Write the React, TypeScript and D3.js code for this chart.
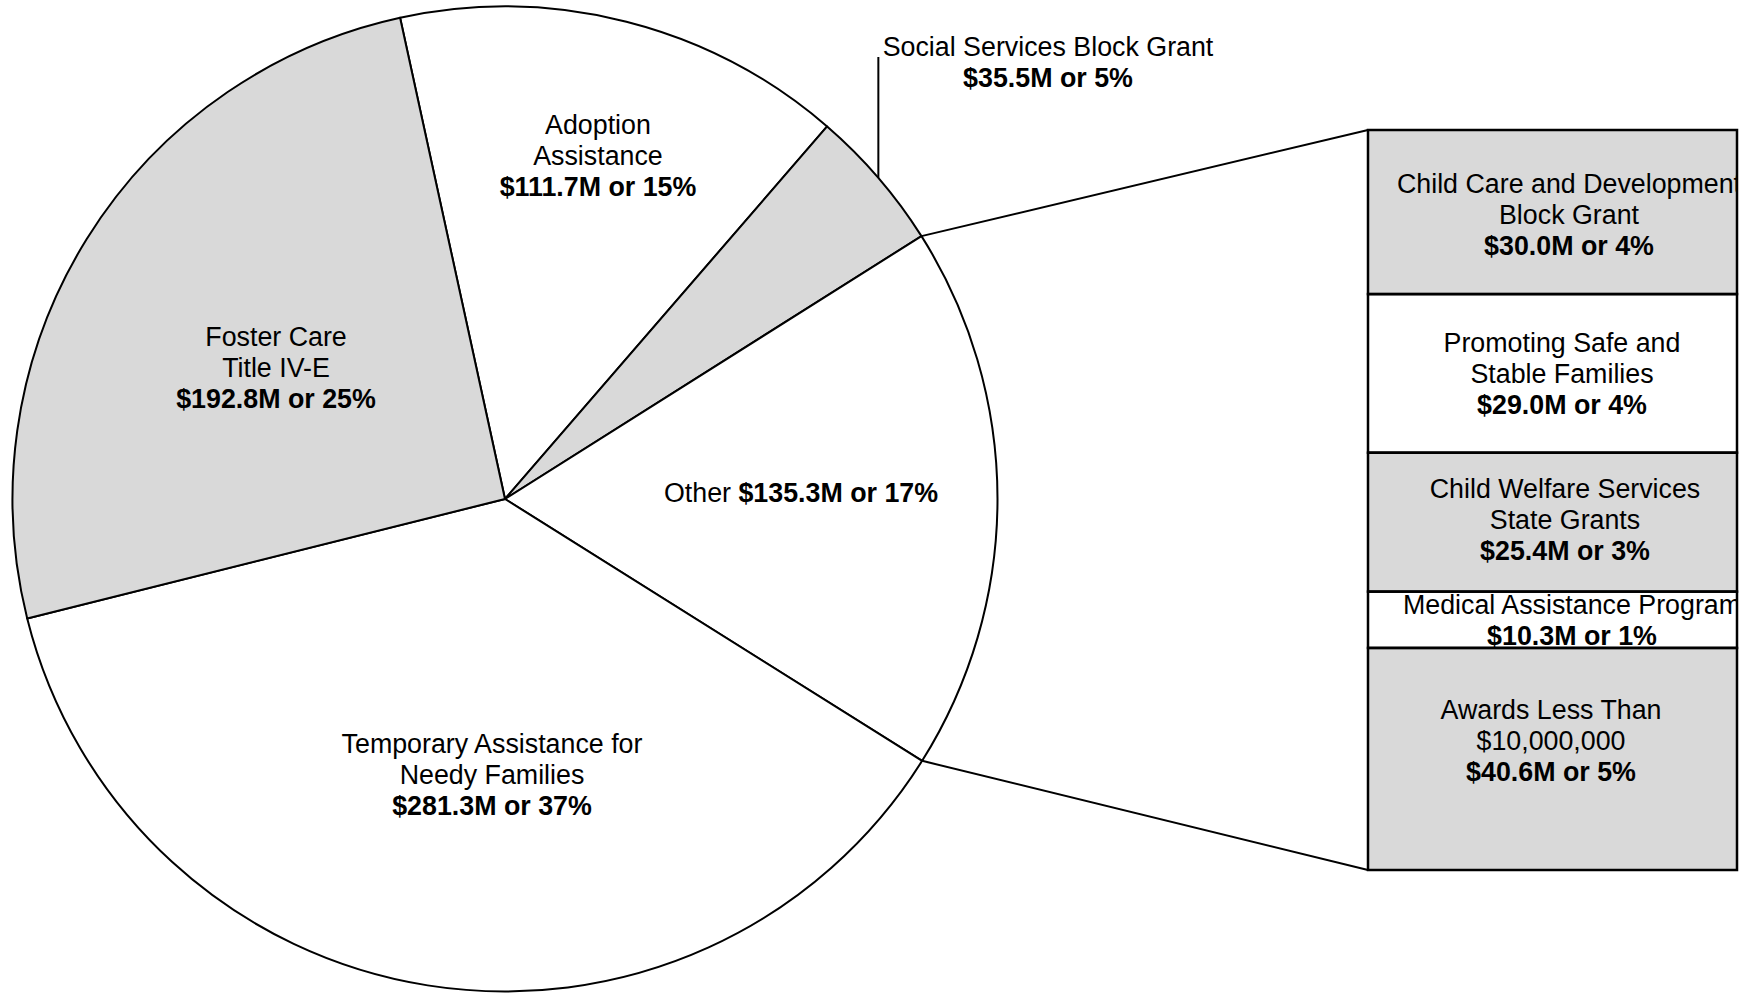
import React from "react";
import * as d3 from "d3";

// ---- Data ----
const pieCategories = [
  "Adoption Assistance",
  "Social Services Block Grant",
  "Other",
  "Temporary Assistance for Needy Families",
  "Foster Care Title IV-E",
];
const pieValues = [111.7, 35.5, 135.3, 281.3, 192.8];
const piePercents = [15, 5, 17, 37, 25];
const pieLabelLines = [
  ["Adoption", "Assistance"],
  ["Social Services Block Grant"],
  ["Other"],
  ["Temporary Assistance for", "Needy Families"],
  ["Foster Care", "Title IV-E"],
];
const pieShaded = [false, true, false, false, true];

const barCategories = [
  "Child Care and Development Block Grant",
  "Promoting Safe and Stable Families",
  "Child Welfare Services State Grants",
  "Medical Assistance Program",
  "Awards Less Than $10,000,000",
];
const barValues = [30.0, 29.0, 25.4, 10.3, 40.6];
const barPercents = [4, 4, 3, 1, 5];
const barLabelLines = [
  ["Child Care and Development", "Block Grant"],
  ["Promoting Safe and", "Stable Families"],
  ["Child Welfare Services", "State Grants"],
  ["Medical Assistance Program"],
  ["Awards Less Than", "$10,000,000"],
];
const barShaded = [true, false, true, false, true];

// ---- Layout ----
const W = 1745;
const H = 993;
const CX = 505;
const CY = 499;
const R = 492.5;
const START_DEG = -12.3;
const BAR_X0 = 1368;
const BAR_X1 = 1737;
const BAR_Y0 = 130;
const BAR_Y1 = 870;
const FONT = "'Liberation Sans', Arial, Helvetica, sans-serif";
const FS = 26.8;
const LH = 31;
const GRAY = "#d9d9d9";

const pieLabelPos = [
  { x: 598, y: 134 },
  { x: 1048, y: 56 },
  { x: 801, y: 502 },
  { x: 492, y: 753 },
  { x: 276, y: 346 },
];
const barLabelPos = [
  { x: 1569, y: 193 },
  { x: 1562, y: 352 },
  { x: 1565, y: 498 },
  { x: 1572, y: 614 },
  { x: 1551, y: 719 },
];

const fmt = (v: number, p: number) => `$${v.toFixed(1)}M or ${p}%`;

export default function App() {
  const start = (START_DEG * Math.PI) / 180;
  const pie = d3
    .pie<number>()
    .sort(null)
    .startAngle(start)
    .endAngle(start + 2 * Math.PI)
    .value((d) => d);
  const arcs = pie(pieValues);
  const arcGen = d3.arc<d3.PieArcDatum<number>>().innerRadius(0).outerRadius(R);
  const pt = (a: number): [number, number] => [CX + R * Math.sin(a), CY - R * Math.cos(a)];

  const otherIdx = 2;
  const ssbgIdx = 1;
  const topPt = pt(arcs[otherIdx].startAngle);
  const botPt = pt(arcs[otherIdx].endAngle);
  const ssbgMid = pt((arcs[ssbgIdx].startAngle + arcs[ssbgIdx].endAngle) / 2);

  const total = d3.sum(barValues);
  const y = d3.scaleLinear().domain([0, total]).range([BAR_Y0, BAR_Y1]);
  const cum: number[] = [];
  barValues.reduce((acc, v) => {
    cum.push(acc);
    return acc + v;
  }, 0);

  return (
    <svg
      width={W}
      height={H}
      style={{ position: "absolute", left: 0, top: 0, background: "#fff" }}
      fontFamily={FONT}
      fontSize={FS}
    >
      <defs>
        <clipPath id="barclip">
          <rect x={BAR_X0} y={BAR_Y0} width={BAR_X1 - BAR_X0} height={BAR_Y1 - BAR_Y0} />
        </clipPath>
      </defs>
      {/* pie */}
      <g transform={`translate(${CX},${CY})`}>
        {arcs.map((a, i) => (
          <path
            key={i}
            d={arcGen(a) || ""}
            fill={pieShaded[i] ? GRAY : "#fff"}
            stroke="#000"
            strokeWidth={2}
            strokeLinejoin="round"
          />
        ))}
      </g>
      {/* connector lines */}
      <line x1={topPt[0]} y1={topPt[1]} x2={BAR_X0} y2={BAR_Y0} stroke="#000" strokeWidth={2} />
      <line x1={botPt[0]} y1={botPt[1]} x2={BAR_X0} y2={BAR_Y1} stroke="#000" strokeWidth={2} />
      {/* SSBG leader */}
      <line
        x1={ssbgMid[0]}
        y1={ssbgMid[1]}
        x2={ssbgMid[0]}
        y2={pieLabelPos[ssbgIdx].y + 1}
        stroke="#000"
        strokeWidth={2}
      />
      {/* pie labels */}
      {pieCategories.map((c, i) => {
        const p = pieLabelPos[i];
        const lines = pieLabelLines[i];
        if (i === otherIdx) {
          return (
            <text key={c} x={p.x} y={p.y} textAnchor="middle" fill="#000">
              <tspan>{lines[0] + " "}</tspan>
              <tspan fontWeight="bold">{fmt(pieValues[i], piePercents[i])}</tspan>
            </text>
          );
        }
        return (
          <text key={c} textAnchor="middle" fill="#000">
            {lines.map((l, j) => (
              <tspan key={j} x={p.x} y={p.y + j * LH}>
                {l}
              </tspan>
            ))}
            <tspan x={p.x} y={p.y + lines.length * LH} fontWeight="bold">
              {fmt(pieValues[i], piePercents[i])}
            </tspan>
          </text>
        );
      })}
      {/* bar */}
      {barValues.map((v, i) => (
        <rect
          key={barCategories[i]}
          x={BAR_X0}
          y={y(cum[i])}
          width={BAR_X1 - BAR_X0}
          height={y(cum[i] + v) - y(cum[i])}
          fill={barShaded[i] ? GRAY : "#fff"}
        />
      ))}
      <g clipPath="url(#barclip)">
        {barCategories.map((c, i) => {
          const p = barLabelPos[i];
          const lines = barLabelLines[i];
          return (
            <text key={c} textAnchor="middle" fill="#000">
              {lines.map((l, j) => (
                <tspan key={j} x={p.x} y={p.y + j * LH}>
                  {l}
                </tspan>
              ))}
              <tspan x={p.x} y={p.y + lines.length * LH} fontWeight="bold">
                {fmt(barValues[i], barPercents[i])}
              </tspan>
            </text>
          );
        })}
      </g>
      {barValues.map((v, i) => (
        <rect
          key={"o" + i}
          x={BAR_X0}
          y={y(cum[i])}
          width={BAR_X1 - BAR_X0}
          height={y(cum[i] + v) - y(cum[i])}
          fill="none"
          stroke="#000"
          strokeWidth={2.5}
        />
      ))}
    </svg>
  );
}
